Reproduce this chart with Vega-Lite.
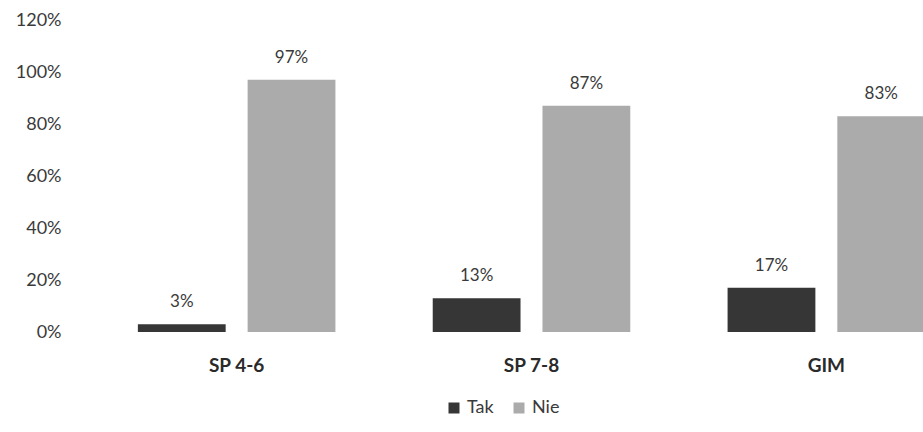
{
  "$schema": "https://vega.github.io/schema/vega-lite/v6.json",
  "width": 827,
  "height": 312,
  "autosize": {"type": "none"},
  "padding": {"left": 96, "top": 20, "right": 0, "bottom": 100},
  "background": "white",
  "config": {"view": {"stroke": null}, "font": "Lato"},
  "data": {
    "values": [
      {"grupa": "SP 4-6", "odp": "Tak", "v": 0.03},
      {"grupa": "SP 4-6", "odp": "Nie", "v": 0.97},
      {"grupa": "SP 7-8", "odp": "Tak", "v": 0.13},
      {"grupa": "SP 7-8", "odp": "Nie", "v": 0.87},
      {"grupa": "GIM", "odp": "Tak", "v": 0.17},
      {"grupa": "GIM", "odp": "Nie", "v": 0.83}
    ]
  },
  "encoding": {
    "x": {
      "field": "grupa", "type": "nominal", "sort": ["SP 4-6", "SP 7-8", "GIM"],
      "scale": {"range": [0, 871], "paddingInner": 0.33, "paddingOuter": 0.142},
      "axis": {"title": null, "domain": false, "ticks": false, "labelAngle": 0, "labelPadding": 24, "labelFontSize": 19, "labelFontWeight": "bold", "labelColor": "#2a2a2a", "labelFont": "Lato"}
    },
    "xOffset": {"field": "odp", "sort": ["Tak", "Nie"], "scale": {"paddingInner": 0.2}},
    "y": {
      "field": "v", "type": "quantitative",
      "scale": {"domain": [0, 1.2]},
      "axis": {"title": null, "format": ".0%", "values": [0, 0.2, 0.4, 0.6, 0.8, 1.0, 1.2], "grid": false, "domain": false, "ticks": false, "labelPadding": 35, "labelFontSize": 18, "labelColor": "#3a3a3a"}
    }
  },
  "layer": [
    {
      "mark": {"type": "bar"},
      "encoding": {
        "color": {
          "field": "odp", "type": "nominal", "sort": ["Tak", "Nie"],
          "scale": {"domain": ["Tak", "Nie"], "range": ["#363636", "#ababab"]},
          "legend": {"title": null, "orient": "none", "direction": "horizontal", "legendX": 349, "legendY": 379, "symbolType": "square", "symbolSize": 121, "labelFontSize": 18, "labelColor": "#3a3a3a", "columnPadding": 16, "labelOffset": 4}
        }
      }
    },
    {
      "mark": {"type": "text", "baseline": "middle", "dy": -22, "fontSize": 17, "color": "#3a3a3a"},
      "encoding": {"text": {"field": "v", "type": "quantitative", "format": ".0%"}}
    }
  ]
}
